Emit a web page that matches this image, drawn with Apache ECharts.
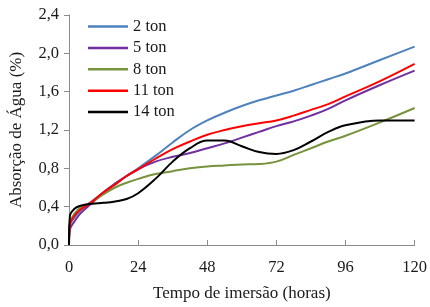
<!DOCTYPE html>
<html>
<head>
<meta charset="utf-8">
<script src="https://cdn.jsdelivr.net/npm/echarts@6/dist/echarts.min.js"></script>
<style>
html,body{margin:0;padding:0;background:#fff;}
#chart{width:430px;height:307px;}
</style>
</head>
<body>
<div id="chart"></div>
<script>
const hours = [0, 0.3, 2, 4, 8, 12, 16, 20, 24, 30, 36, 42, 48, 54, 60, 66, 72, 78, 84, 90, 96, 108, 120];
const seriesNames = ['2 ton', '5 ton', '8 ton', '11 ton', '14 ton'];
const ton2  = [0, 0.21, 0.29, 0.36, 0.46, 0.55, 0.64, 0.72, 0.80, 0.93, 1.07, 1.20, 1.30, 1.38, 1.45, 1.51, 1.56, 1.61, 1.67, 1.73, 1.79, 1.93, 2.07];
const ton5  = [0, 0.16, 0.25, 0.33, 0.44, 0.55, 0.64, 0.72, 0.79, 0.87, 0.92, 0.96, 1.01, 1.06, 1.12, 1.18, 1.24, 1.29, 1.35, 1.42, 1.51, 1.67, 1.82];
const ton8  = [0, 0.23, 0.33, 0.39, 0.45, 0.53, 0.60, 0.65, 0.69, 0.74, 0.77, 0.80, 0.82, 0.83, 0.84, 0.845, 0.87, 0.94, 1.01, 1.08, 1.14, 1.28, 1.43];
const ton11 = [0, 0.21, 0.31, 0.37, 0.45, 0.55, 0.63, 0.72, 0.79, 0.90, 1.00, 1.08, 1.15, 1.20, 1.24, 1.27, 1.30, 1.35, 1.41, 1.47, 1.55, 1.71, 1.89];
const ton14 = [0, 0.30, 0.38, 0.41, 0.43, 0.44, 0.455, 0.48, 0.54, 0.69, 0.87, 1.01, 1.09, 1.09, 1.03, 0.97, 0.95, 0.99, 1.08, 1.18, 1.25, 1.30, 1.30];
const xTicks = [0, 24, 48, 72, 96, 120];
const yTicks = [0, 0.4, 0.8, 1.2, 1.6, 2.0, 2.4];
const colors = ['#4F81BD', '#7030A0', '#77933C', '#FF0000', '#000000'];
const allValues = [ton2, ton5, ton8, ton11, ton14];

const font = "'Liberation Serif', 'Times New Roman', serif";
const chart = echarts.init(document.getElementById('chart'));
const fmt = v => v.toFixed(1).replace('.', ',');

chart.setOption({
  animation: false,
  backgroundColor: '#fff',
  textStyle: { fontFamily: font },
  grid: { left: 67, right: 13, top: 15, bottom: 60 },
  legend: {
    orient: 'vertical', left: 83, top: 13,
    icon: 'rect', itemWidth: 40, itemHeight: 2.5, itemGap: 4.4,
    textStyle: { fontFamily: font, fontSize: 16.5, color: '#1a1a1a' },
    data: seriesNames
  },
  xAxis: {
    type: 'value', min: xTicks[0], max: xTicks[xTicks.length-1], interval: 24,
    name: 'Tempo de imersão (horas)', nameLocation: 'middle', nameGap: 40,
    nameTextStyle: { fontFamily: font, fontSize: 17, color: '#1a1a1a' },
    axisLine: { lineStyle: { color: '#8c8c8c', width: 1 } },
    axisTick: { show: true, inside: true, length: 5, lineStyle: { color: '#8c8c8c' } },
    axisLabel: { fontFamily: font, fontSize: 16.5, color: '#1a1a1a', margin: 14 },
    splitLine: { show: false }
  },
  yAxis: {
    type: 'value', min: yTicks[0], max: yTicks[yTicks.length-1], interval: 0.4,
    name: 'Absorção de Água (%)', nameLocation: 'middle', nameGap: 44, nameRotate: 90,
    nameTextStyle: { fontFamily: font, fontSize: 17, color: '#1a1a1a' },
    axisLine: { show: true, lineStyle: { color: '#8c8c8c', width: 1 } },
    axisTick: { show: true, inside: false, length: 5, lineStyle: { color: '#8c8c8c' } },
    axisLabel: { fontFamily: font, fontSize: 16.5, color: '#1a1a1a', margin: 10, formatter: fmt },
    splitLine: { show: false }
  },
  series: seriesNames.map((n, i) => ({
    name: n, type: 'line', smooth: 0.4,
    symbol: 'none', color: colors[i],
    lineStyle: { color: colors[i], width: 2 },
    data: hours.map((h, k) => [h, allValues[i][k]])
  }))
});
</script>
</body>
</html>
